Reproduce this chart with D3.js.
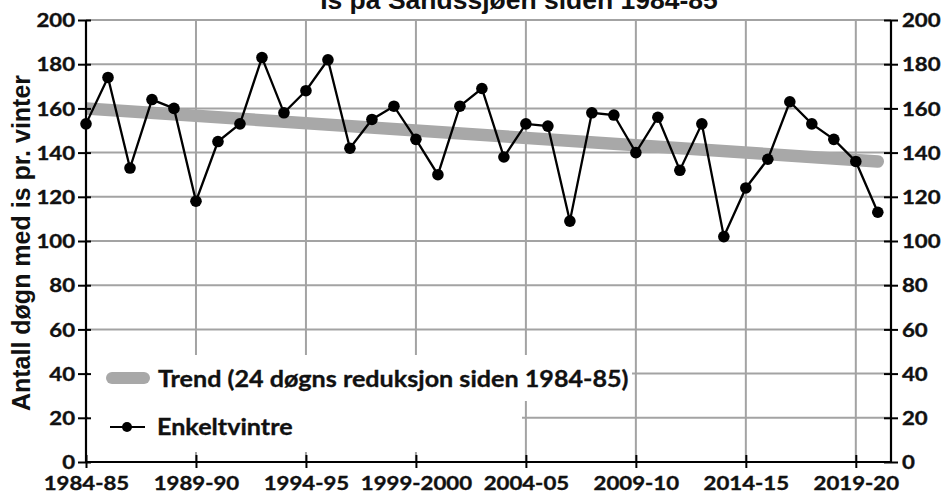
<!DOCTYPE html>
<html>
<head>
<meta charset="utf-8">
<script src="https://cdn.jsdelivr.net/npm/d3@7"></script>
<style>
  html, body { margin: 0; padding: 0; background: #fff; }
  svg { display: block; }
  .tick-label { font-family: Lato, "Open Sans", sans-serif; font-weight: 700; font-size: 18.5px; fill: #111; stroke: #111; stroke-width: 0.35px; }
  .legend-label { font-family: Lato, "Open Sans", sans-serif; font-weight: 700; font-size: 23.5px; fill: #111; stroke: #111; stroke-width: 0.35px; }
  .title { font-family: "Liberation Sans", Arial, sans-serif; font-weight: 700; font-size: 26.5px; fill: #111; }
  .ytitle { font-family: "Liberation Sans", Arial, sans-serif; font-weight: 700; font-size: 25px; fill: #111; }
</style>
</head>
<body>
<svg id="chart" width="943" height="493"></svg>
<script>
'use strict';

// winters (one point each)
var winters = ['1984-85', '1985-86', '1986-87', '1987-88', '1988-89', '1989-90', '1990-91',
	'1991-92', '1992-93', '1993-94', '1994-95', '1995-96', '1996-97', '1997-98', '1998-99',
	'1999-2000', '2000-01', '2001-02', '2002-03', '2003-04', '2004-05', '2005-06', '2006-07',
	'2007-08', '2008-09', '2009-10', '2010-11', '2011-12', '2012-13', '2013-14', '2014-15',
	'2015-16', '2016-17', '2017-18', '2018-19', '2019-20', '2020-21'];

// days with ice per winter
var iceDays = [153, 174, 133, 164, 160, 118, 145, 153, 183, 158, 168, 182, 142, 155, 161,
	146, 130, 161, 169, 138, 153, 152, 109, 158, 157, 140, 156, 132, 153, 102, 124,
	137, 163, 153, 146, 136, 113];

// trend line end points (first and last winter)
var trendWinters = ['1984-85', '2020-21'];
var trendValues = [160, 136];

var xTickLabels = ['1984-85', '1989-90', '1994-95', '1999-2000', '2004-05', '2009-10', '2014-15', '2019-20'];
var yTicks = [0, 20, 40, 60, 80, 100, 120, 140, 160, 180, 200];

var titleText = 'Is på Sandssjøen siden 1984-85';
var yTitleText = 'Antall døgn med is pr. vinter';
var legendTrend = 'Trend (24 døgns reduksjon siden 1984-85)';
var legendSeries = 'Enkeltvintre';

var plot = { left: 86, right: 891, top: 20, bottom: 462 };
var gridColor = '#a3a3a3';
var stretch = 1.2; // the labels in the picture are drawn a bit wide

var svg = d3.select('#chart');

var x = d3.scaleLinear()
	.domain([0, 36.6])
	.range([plot.left, plot.right]);
var y = d3.scaleLinear()
	.domain([0, 200])
	.range([plot.bottom, plot.top]);

var xi = function (label) { return x(winters.indexOf(label)); };

svg.append('clipPath').attr('id', 'plotclip')
	.append('rect').attr('x', plot.left).attr('y', 0).attr('width', 943 - plot.left).attr('height', 493);

// grid
var grid = svg.append('g').attr('class', 'grid');
grid.selectAll('line.h')
		.data(yTicks.filter(function (d) { return d > 0; }))
	.enter()
		.append('line')
		.attr('x1', plot.left).attr('x2', plot.right)
		.attr('y1', y).attr('y2', y)
		.attr('stroke', gridColor).attr('stroke-width', 2);
grid.selectAll('line.v')
		.data(xTickLabels.slice(1))
	.enter()
		.append('line')
		.attr('x1', xi).attr('x2', xi)
		.attr('y1', plot.top).attr('y2', plot.bottom)
		.attr('stroke', gridColor).attr('stroke-width', 2);

// legend backgrounds hide the grid behind the text
svg.append('rect').attr('x', 88).attr('y', 355).attr('width', 544).attr('height', 46).attr('fill', '#fff');
svg.append('rect').attr('x', 88).attr('y', 401).attr('width', 434).attr('height', 51).attr('fill', '#fff');

// trend
svg.append('line')
	.attr('x1', xi(trendWinters[0])).attr('y1', y(trendValues[0]))
	.attr('x2', xi(trendWinters[1])).attr('y2', y(trendValues[1]))
	.attr('stroke', '#a8a8a8').attr('stroke-width', 12.5).attr('stroke-linecap', 'round')
	.attr('clip-path', 'url(#plotclip)');

// series
var line = d3.line()
	.x(function (d, i) { return x(i); })
	.y(function (d) { return y(d); });
svg.append('path')
	.datum(iceDays)
	.attr('d', line)
	.attr('fill', 'none').attr('stroke', '#000').attr('stroke-width', 2.3);
svg.selectAll('circle.pt')
		.data(iceDays)
	.enter()
		.append('circle')
		.attr('class', 'pt')
		.attr('cx', function (d, i) { return x(i); })
		.attr('cy', y)
		.attr('r', 5.8)
		.attr('fill', '#000');

// axes
var yLeft = d3.axisLeft(y).tickValues(yTicks).tickSize(8).tickPadding(2);
var gl = svg.append('g').attr('transform', 'translate(' + plot.left + ',0)').call(yLeft);
var yRight = d3.axisRight(y).tickValues(yTicks).tickSize(7).tickPadding(4);
var gr = svg.append('g').attr('transform', 'translate(' + plot.right + ',0)').call(yRight);
var xAxis = d3.axisBottom(x)
	.tickValues(xTickLabels.map(function (l) { return winters.indexOf(l); }))
	.tickFormat(function (d) { return winters[d]; })
	.tickSize(6).tickPadding(3);
var gx = svg.append('g').attr('transform', 'translate(0,' + plot.bottom + ')').call(xAxis);

[gl, gr, gx].forEach(function (g) {
	g.attr('font-size', null).attr('font-family', null);
	g.select('.domain').attr('stroke', '#000').attr('stroke-width', 2.2);
	g.selectAll('.tick line').attr('stroke', '#000').attr('stroke-width', 2);
	g.selectAll('.tick text').attr('class', 'tick-label').attr('fill', null)
		.attr('transform', 'scale(' + stretch + ',1)');
});
// ticks cross the axis lines
gl.selectAll('.tick line').attr('x1', 5);
gr.selectAll('.tick line').attr('x1', -7);
gx.selectAll('.tick line').attr('y1', -7);
gx.selectAll('.tick text').attr('y', 28).attr('dy', null);
gl.selectAll('.tick text').attr('x', -11 / stretch).attr('dy', '0.36em');
gr.selectAll('.tick text').attr('x', 11 / stretch).attr('dy', '0.36em');
gl.select('.domain').attr('d', 'M0,' + plot.top + 'V' + plot.bottom);
gr.select('.domain').attr('d', 'M0,' + plot.top + 'V' + plot.bottom);
gx.select('.domain').attr('d', 'M' + plot.left + ',0H' + plot.right);

// titles
svg.append('text').attr('class', 'title')
	.attr('x', 519).attr('y', 9).attr('text-anchor', 'middle')
	.text(titleText);
svg.append('text').attr('class', 'ytitle')
	.attr('transform', 'translate(30,243) rotate(-90)')
	.attr('text-anchor', 'middle')
	.text(yTitleText);

// legend
svg.append('line')
	.attr('x1', 112).attr('x2', 144).attr('y1', 378).attr('y2', 378)
	.attr('stroke', '#a8a8a8').attr('stroke-width', 12).attr('stroke-linecap', 'round');
svg.append('text').attr('class', 'legend-label')
	.attr('transform', 'translate(158,387) scale(1.07,1)')
	.text(legendTrend);
svg.append('line')
	.attr('x1', 110).attr('x2', 145).attr('y1', 427).attr('y2', 427)
	.attr('stroke', '#000').attr('stroke-width', 2);
svg.append('circle').attr('cx', 127).attr('cy', 427).attr('r', 5).attr('fill', '#000');
svg.append('text').attr('class', 'legend-label')
	.attr('transform', 'translate(157,435) scale(1.07,1)')
	.text(legendSeries);
</script>
</body>
</html>
